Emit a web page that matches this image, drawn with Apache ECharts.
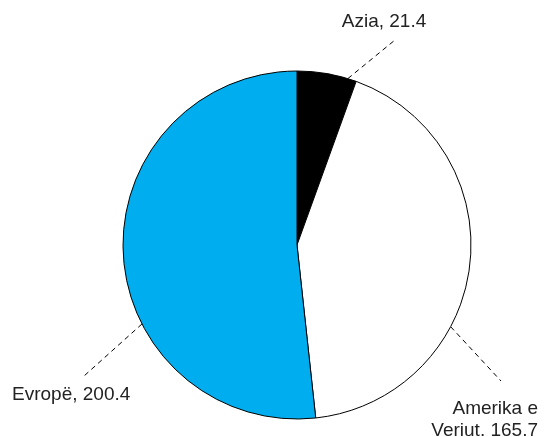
<!DOCTYPE html>
<html><head><meta charset="utf-8">
<script src="https://cdn.jsdelivr.net/npm/echarts@6/dist/echarts.min.js"></script>
<style>html,body{margin:0;padding:0;background:#fff}#c{width:544px;height:437px}</style>
</head><body><div id="c"></div>
<script>
const categories = ['Azia', 'Amerika e Veriut', 'Evropë'];
const values = [21.4, 165.7, 200.4];
const labelTexts = ['Azia, 21.4', 'Amerika e\nVeriut. 165.7', 'Evropë, 200.4'];
const colors = ['#000000', '#ffffff', '#00aeef'];

const CX = 297, CY = 245, R = 174;
const labelPlacement = [
  {x: 384, y: 22, align: 'center', lineAngle: 17, lineEnd: [395, 40]},
  {x: 538, y: 420, align: 'right', lineAngle: 118, lineEnd: [501, 381]},
  {x: 12, y: 395, align: 'left', lineAngle: 243, lineEnd: [84, 376]}
];

const chart = echarts.init(document.getElementById('c'), null, {renderer: 'canvas'});
chart.setOption({
  animation: false,
  backgroundColor: '#ffffff',
  series: [{
    type: 'pie',
    center: [CX, CY],
    radius: R,
    startAngle: 90,
    clockwise: true,
    avoidLabelOverlap: false,
    emphasis: {disabled: true},
    itemStyle: {borderColor: '#000000', borderWidth: 1},
    label: {
      show: true,
      position: 'outside',
      color: '#222222',
      fontFamily: 'Liberation Sans',
      fontSize: 19,
      lineHeight: 22,
      formatter: p => labelTexts[p.dataIndex]
    },
    labelLine: {
      show: true,
      length: 20,
      length2: 0,
      lineStyle: {color: '#000000', width: 1, type: [5, 4]}
    },
    labelLayout: function (params) {
      const p = labelPlacement[params.dataIndex];
      const a = p.lineAngle * Math.PI / 180;
      const start = [CX + R * Math.sin(a), CY - R * Math.cos(a)];
      return {
        x: p.x, y: p.y, align: p.align, verticalAlign: 'middle',
        labelLinePoints: [start, p.lineEnd, p.lineEnd]
      };
    },
    data: categories.map((c, i) => ({name: c, value: values[i], itemStyle: {color: colors[i]}}))
  }]
});
</script></body></html>
